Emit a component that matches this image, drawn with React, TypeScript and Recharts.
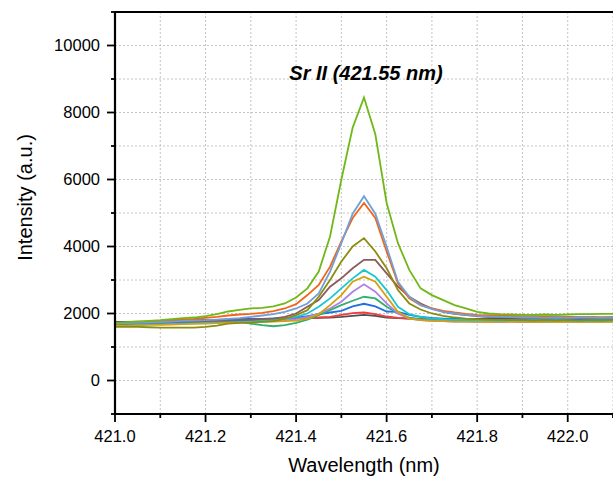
import React from 'react';
import { LineChart, Line, XAxis, YAxis, CartesianGrid, ReferenceLine } from 'recharts';

// wavelength axis (nm), one point every 0.025 nm
const wavelengths = [
  421.0, 421.025, 421.05, 421.075, 421.1,
  421.125, 421.15, 421.175, 421.2, 421.225,
  421.25, 421.275, 421.3, 421.325, 421.35,
  421.375, 421.4, 421.425, 421.45, 421.475,
  421.5, 421.525, 421.55, 421.575, 421.6,
  421.625, 421.65, 421.675, 421.7, 421.725,
  421.75, 421.775, 421.8, 421.825, 421.85,
  421.875, 421.9, 421.925, 421.95, 421.975,
  422.0, 422.025, 422.05, 422.075, 422.1,
];

const xTicks = [421.0, 421.1, 421.2, 421.3, 421.4, 421.5, 421.6, 421.7, 421.8, 421.9, 422.0, 422.1];
const yTicks = [-1000, 0, 1000, 2000, 3000, 4000, 5000, 6000, 7000, 8000, 9000, 10000, 11000];

// intensity of each spectrum (a.u.)
const grey = [
  1750, 1750, 1760, 1760, 1770, 1780, 1790, 1800, 1800, 1810,
  1820, 1830, 1840, 1840, 1850, 1850, 1860, 1860, 1870, 1880,
  1900, 1930, 1960, 1930, 1880, 1860, 1850, 1840, 1840, 1830,
  1840, 1830, 1840, 1850, 1840, 1850, 1860, 1850, 1860, 1870,
  1860, 1870, 1880, 1870, 1880,
];
const red = [
  1700, 1710, 1720, 1730, 1740, 1750, 1760, 1770, 1780, 1790,
  1800, 1810, 1820, 1830, 1840, 1850, 1860, 1870, 1880, 1900,
  1960, 2010, 2030, 1980, 1910, 1870, 1850, 1830, 1810, 1800,
  1790, 1800, 1810, 1800, 1810, 1800, 1810, 1800, 1810, 1800,
  1810, 1800, 1810, 1820, 1810,
];
const blue = [
  1720, 1730, 1740, 1740, 1750, 1760, 1770, 1780, 1790, 1800,
  1810, 1820, 1830, 1840, 1850, 1860, 1880, 1920, 1980, 2030,
  2080, 2210, 2290, 2210, 2060, 2050, 1960, 1900, 1870, 1850,
  1830, 1820, 1820, 1810, 1820, 1810, 1820, 1830, 1820, 1830,
  1820, 1830, 1820, 1830, 1820,
];
const teal = [
  1700, 1700, 1700, 1710, 1710, 1720, 1730, 1740, 1750, 1760,
  1760, 1750, 1700, 1650, 1620, 1650, 1720, 1820, 1950, 2100,
  2250, 2380, 2500, 2450, 2200, 2000, 1880, 1830, 1800, 1790,
  1780, 1780, 1770, 1780, 1770, 1780, 1770, 1780, 1790, 1780,
  1790, 1780, 1790, 1800, 1790,
];
const purple = [
  1680, 1680, 1690, 1690, 1700, 1700, 1710, 1720, 1730, 1740,
  1750, 1760, 1770, 1780, 1790, 1800, 1830, 1900, 2000, 2150,
  2350, 2650, 2870, 2650, 2300, 2000, 1850, 1800, 1780, 1770,
  1760, 1760, 1750, 1750, 1740, 1750, 1740, 1750, 1740, 1750,
  1760, 1750, 1760, 1750, 1760,
];
const gold = [
  1650, 1650, 1650, 1660, 1660, 1670, 1680, 1690, 1700, 1710,
  1720, 1730, 1740, 1750, 1760, 1770, 1790, 1850, 1980, 2250,
  2550, 2950, 3100, 2950, 2500, 2050, 1850, 1800, 1780, 1770,
  1760, 1760, 1750, 1760, 1750, 1760, 1750, 1760, 1750, 1760,
  1750, 1760, 1750, 1760, 1750,
];
const cyan = [
  1700, 1690, 1700, 1700, 1710, 1720, 1730, 1740, 1750, 1760,
  1770, 1780, 1790, 1800, 1820, 1850, 1900, 2000, 2200, 2450,
  2750, 3050, 3300, 3100, 2700, 2200, 1980, 1900, 1850, 1830,
  1820, 1810, 1800, 1800, 1790, 1800, 1790, 1800, 1790, 1800,
  1790, 1780, 1790, 1780, 1790,
];
const brown = [
  1700, 1700, 1710, 1720, 1730, 1740, 1750, 1760, 1770, 1780,
  1790, 1800, 1810, 1830, 1850, 1900, 2000, 2200, 2400, 2800,
  3050, 3350, 3600, 3600, 3200, 2800, 2500, 2300, 2150, 2050,
  1990, 1950, 1920, 1900, 1890, 1880, 1880, 1870, 1880, 1870,
  1880, 1870, 1880, 1870, 1880,
];
const olive = [
  1600, 1600, 1600, 1590, 1580, 1580, 1580, 1580, 1600, 1640,
  1700, 1720, 1730, 1750, 1770, 1850, 1950, 2100, 2500, 3000,
  3550, 4000, 4250, 3850, 3350, 2700, 2300, 2120, 2000, 1930,
  1880, 1850, 1830, 1820, 1810, 1800, 1800, 1790, 1800, 1790,
  1800, 1790, 1800, 1790, 1800,
];
const orange = [
  1700, 1720, 1740, 1760, 1780, 1800, 1820, 1840, 1870, 1900,
  1940, 1970, 1990, 2020, 2070, 2150, 2280, 2550, 2850, 3400,
  4150, 4850, 5300, 4850, 3850, 2900, 2450, 2250, 2150, 2080,
  2030, 1990, 1960, 1950, 1940, 1930, 1920, 1920, 1910, 1910,
  1900, 1900, 1890, 1890, 1890,
];
const lightBlue = [
  1700, 1710, 1720, 1730, 1740, 1760, 1780, 1790, 1800, 1820,
  1840, 1860, 1900, 1940, 1980, 2050, 2150, 2300, 2600, 3250,
  4100, 4980, 5500, 4980, 3990, 2950, 2500, 2250, 2130, 2050,
  2000, 1960, 1930, 1910, 1900, 1890, 1880, 1880, 1870, 1880,
  1870, 1880, 1880, 1870, 1880,
];
const green = [
  1720, 1740, 1760, 1780, 1800, 1830, 1860, 1880, 1920, 1980,
  2060, 2110, 2150, 2170, 2210, 2300, 2480, 2750, 3250, 4300,
  6000, 7550, 8450, 7350, 5300, 4100, 3300, 2750, 2550, 2400,
  2250, 2150, 2050, 2000, 1980, 1970, 1960, 1960, 1970, 1960,
  1970, 1980, 1980, 1990, 1990,
];

const seriesValues: Record<string, number[]> = {
  grey, red, blue, teal, purple, gold, cyan, brown, olive, orange, lightBlue, green,
};

const seriesColors: Record<string, string> = {
  grey: '#505050',
  red: '#f03c3c',
  blue: '#2070e0',
  teal: '#30b070',
  purple: '#b080e8',
  gold: '#d4a010',
  cyan: '#18c8d0',
  brown: '#8c5a58',
  olive: '#8c8c10',
  orange: '#f56416',
  lightBlue: '#70a0d8',
  green: '#70b818',
};

const data = wavelengths.map((w, i) => {
  const row: Record<string, number> = { w };
  Object.keys(seriesValues).forEach((k) => {
    row[k] = seriesValues[k][i];
  });
  return row;
});

const FONT = '"Liberation Sans", Arial, sans-serif';

const XTick = (props: any) => {
  const { x, y, payload } = props;
  const v = payload.value as number;
  const major = Math.round(v * 10) % 2 === 0;
  return (
    <g>
      <line x1={x} x2={x} y1={y} y2={y + (major ? 8 : 4)} stroke="#000" strokeWidth={1.8} />
      {major && (
        <text x={x} y={y + 28} textAnchor="middle" fontSize={16.5} fontFamily={FONT} fill="#000">
          {v.toFixed(1)}
        </text>
      )}
    </g>
  );
};

const YTick = (props: any) => {
  const { x, y, payload } = props;
  const v = payload.value as number;
  const major = v % 2000 === 0 && v >= 0 && v <= 10000;
  return (
    <g>
      <line x1={x} x2={x - (major ? 8 : 4)} y1={y} y2={y} stroke="#000" strokeWidth={1.8} />
      {major && (
        <text x={x - 15} y={y} dy="0.36em" textAnchor="end" fontSize={16.5} fontFamily={FONT} fill="#000">
          {v}
        </text>
      )}
    </g>
  );
};

export default function App() {
  return (
    <div style={{ position: 'absolute', left: 0, top: 0, width: 613, height: 477, background: '#fff', fontFamily: FONT }}>
      <LineChart width={613} height={477} data={data} margin={{ top: 12, right: 0, bottom: 0, left: 0 }}>
        <CartesianGrid stroke="#c4c4c4" strokeDasharray="2 2" />
        <XAxis
          dataKey="w"
          type="number"
          domain={[421, 422.1]}
          ticks={xTicks}
          interval={0}
          allowDataOverflow
          height={63}
          tickSize={0}
          tickMargin={0}
          tick={<XTick />}
          axisLine={{ stroke: '#000', strokeWidth: 2.2 }}
          tickLine={false}
        />
        <YAxis
          type="number"
          domain={[-1000, 11000]}
          ticks={yTicks}
          interval={0}
          allowDataOverflow
          width={115}
          tickSize={0}
          tickMargin={0}
          tick={<YTick />}
          axisLine={{ stroke: '#000', strokeWidth: 2.2 }}
          tickLine={false}
        />
        <ReferenceLine y={11000} stroke="#000" strokeWidth={1.8} />
        {Object.keys(seriesValues).map((k) => (
          <Line
            key={k}
            type="linear"
            dataKey={k}
            stroke={seriesColors[k]}
            strokeWidth={1.8}
            dot={false}
            isAnimationActive={false}
          />
        ))}
      </LineChart>
      <svg width={613} height={477} style={{ position: 'absolute', left: 0, top: 0, pointerEvents: 'none' }}>
        <text x={366} y={80} textAnchor="middle" fontSize={20} fontWeight="bold" fontStyle="italic" fontFamily={FONT} fill="#000">
          Sr II (421.55 nm)
        </text>
        <text transform="translate(31.7,197.5) rotate(-90)" textAnchor="middle" fontSize={20} fontFamily={FONT} fill="#000">
          Intensity (a.u.)
        </text>
        <text x={364} y={472} textAnchor="middle" fontSize={20} fontFamily={FONT} fill="#000">
          Wavelength (nm)
        </text>
      </svg>
    </div>
  );
}
